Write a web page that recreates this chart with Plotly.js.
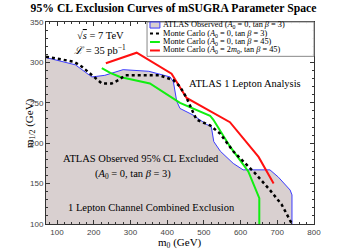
<!DOCTYPE html>
<html>
<head>
<meta charset="utf-8">
<script src="https://cdn.plot.ly/plotly-3.0.1.min.js"></script>
<style>html,body{margin:0;padding:0;background:#fff}#chart{width:347px;height:252px}</style>
</head>
<body>
<div id="chart"></div>
<script>
// ATLAS observed exclusion (A0=0, tan beta=3)
const atlasM0  = [70,150,195,230,280,350,408,417,426,435,470,508,520,527,545,580,607,680,703,735,740,740];
const atlasM12 = [306,297,282,284,291,289,282,276,252,243,235,223,221,202,190,175,167,167,158,142,136,100];
// Monte Carlo (A0=0, tan beta=3)
const mc3M0  = [70,145,167,195,222,249,267,285,353,380,417,435,453,462,480,517,544,580,639,680,712,740];
const mc3M12 = [307,301,295,284,274,274,278,284,284,284,278,270,256,247,229,222,212,190,163,142,124,100];
// Monte Carlo (A0=0, tan beta=45)
const mc45M0  = [222,245,272,353,435,517,526,571,621,635,651,651];
const mc45M12 = [293,287,282,274,250,234,229,196,165,150,132,100];
// Monte Carlo (A0=2m0, tan beta=45)
const mc2M0  = [233,317,412,453,571,649,690];
const mc2M12 = [299,312,286,256,226,183,150];

const legendLabels = [
  "ATLAS Observed (<i>A</i><sub>0</sub> = 0, tan <i>β</i> = 3)",
  "Monte Carlo (<i>A</i><sub>0</sub> = 0, tan <i>β</i> = 3)",
  "Monte Carlo (<i>A</i><sub>0</sub> = 0, tan <i>β</i> = 45)",
  "Monte Carlo (<i>A</i><sub>0</sub> = 2<i>m</i><sub>0</sub>, tan <i>β</i> = 45)"
];
const xTickVals = [100,200,300,400,500,600,700,800];
const yTickVals = [100,150,200,250,300,350];

const SERIF = "Liberation Serif, DejaVu Serif, serif";
const SANS = "Liberation Sans, Arial, sans-serif";
const fillCol = "#d9d0d0";
const blueCol = "#3b3bff";
const greenCol = "#11ee11";
const redCol = "#ff1010";

const traces = [
  {x: atlasM0, y: atlasM12, mode: "lines", fill: "tozeroy", fillcolor: fillCol,
   line: {color: blueCol, width: 1}, showlegend: false, hoverinfo: "skip"},
  {x: mc45M0, y: mc45M12, mode: "lines", line: {color: greenCol, width: 2}, showlegend: false},
  {x: mc2M0, y: mc2M12, mode: "lines", line: {color: redCol, width: 2}, showlegend: false},
  {x: mc3M0, y: mc3M12, mode: "lines", line: {color: "#000", width: 2.5, dash: "dot"}, showlegend: false}
];

// custom compact legend (paper coords)
const rowY = [0.985, 0.943, 0.901, 0.859];
const symX0 = 0.388, symX1 = 0.425, txtX = 0.430;
const shapes = [
  {type: "rect", xref: "paper", yref: "paper", x0: 0.377, x1: 1.0, y0: 0.830, y1: 1.0,
   line: {color: "#888", width: 1}, fillcolor: "rgba(255,255,255,0.95)"},
  {type: "rect", xref: "paper", yref: "paper", x0: symX0, x1: symX1, y0: rowY[0]-0.015, y1: rowY[0]+0.015,
   line: {color: blueCol, width: 1}, fillcolor: fillCol},
  {type: "line", xref: "paper", yref: "paper", x0: symX0, x1: symX1, y0: rowY[1], y1: rowY[1],
   line: {color: "#000", width: 2, dash: "dot"}},
  {type: "line", xref: "paper", yref: "paper", x0: symX0, x1: symX1, y0: rowY[2], y1: rowY[2],
   line: {color: greenCol, width: 2}},
  {type: "line", xref: "paper", yref: "paper", x0: symX0, x1: symX1, y0: rowY[3], y1: rowY[3],
   line: {color: redCol, width: 2}}
];

const annotations = legendLabels.map((t, i) => ({
  text: t, xref: "paper", yref: "paper", x: txtX, y: rowY[i], xanchor: "left", yanchor: "middle",
  showarrow: false, font: {family: SERIF, size: 8.3, color: "#000"}
}));

function txt(t, px, py, size, angle) {
  return {text: t, xref: "paper", yref: "paper", x: (px-46)/268, y: (224-py)/202,
    xanchor: "center", yanchor: "middle", showarrow: false, textangle: angle || 0,
    font: {family: SERIF, size: size, color: "#000"}};
}
annotations.push(txt("√<span style=\"text-decoration:overline\"><i>s</i></span> = 7 TeV", 100, 36, 10.5));
annotations.push(txt("<i>ℒ</i> = 35 pb<sup>−1</sup>", 100, 49, 10.5));
annotations.push(txt("ATLAS 1 Lepton Analysis", 245, 83, 10.5));
annotations.push(txt("ATLAS Observed 95% CL Excluded", 141, 158, 10.5));
annotations.push(txt("(<i>A</i><sub>0</sub> = 0, tan <i>β</i> = 3)", 133, 174, 10.5));
annotations.push(txt("1 Lepton Channel Combined Exclusion", 151, 207, 10.5));
// axis titles
annotations.push(txt("m<sub>0</sub> (GeV)", 180, 242.5, 11));
annotations.push(txt("m<sub>1/2</sub> (GeV)", 30, 123, 11, -90));

const axisCommon = {
  showline: true, linecolor: "#333", linewidth: 1, mirror: "allticks",
  ticks: "inside", ticklen: 4, tickcolor: "#333", tickwidth: 1,
  showgrid: false, zeroline: false,
  tickfont: {family: SANS, size: 8, color: "#444"}
};

const layout = {
  width: 347, height: 252,
  margin: {l: 46, r: 33, t: 22, b: 28},
  paper_bgcolor: "#fff", plot_bgcolor: "#fff",
  title: {text: "<b>95% CL Exclusion Curves of mSUGRA Parameter Space</b>",
    font: {family: SERIF, size: 11.7, color: "#000"}, x: 0.5, xanchor: "center", y: 0.968, yanchor: "middle"},
  xaxis: Object.assign({}, axisCommon, {
    range: [70, 800], tickvals: xTickVals, ticklabelstandoff: 0,
    minor: {dtick: 20, ticklen: 2, ticks: "inside", tickcolor: "#333"}
  }),
  yaxis: Object.assign({}, axisCommon, {
    range: [100, 350], tickvals: yTickVals,
    minor: {dtick: 10, ticklen: 2, ticks: "inside", tickcolor: "#333"}
  }),
  shapes: shapes,
  annotations: annotations,
  showlegend: false
};

Plotly.newPlot("chart", traces, layout, {staticPlot: true, displayModeBar: false});
</script>
</body>
</html>
